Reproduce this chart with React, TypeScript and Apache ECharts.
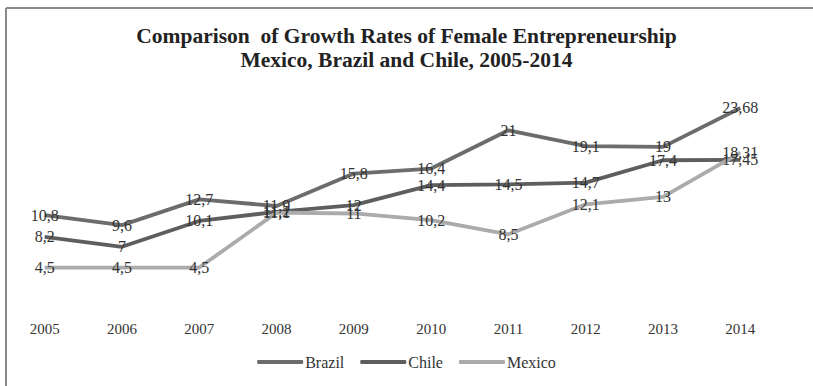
import React, { useEffect, useRef } from "react";
import * as echarts from "echarts";

const years = ["2005", "2006", "2007", "2008", "2009", "2010", "2011", "2012", "2013", "2014"];
const brazil = [10.8, 9.6, 12.7, 11.9, 15.8, 16.4, 21, 19.1, 19, 23.68];
const chile = [8.2, 7, 10.1, 11.2, 12, 14.4, 14.5, 14.7, 17.4, 17.45];
const mexico = [4.5, 4.5, 4.5, 11.1, 11.0, 10.2, 8.5, 12.1, 13, 18.31];
const seriesNames = ["Brazil", "Chile", "Mexico"];
const titleLines = ["Comparison  of Growth Rates of Female Entrepreneurship", "Mexico, Brazil and Chile, 2005-2014"];

const SERIF = "'Liberation Serif', 'DejaVu Serif', serif";

export default function App() {
  const ref = useRef<HTMLDivElement>(null);
  useEffect(() => {
    if (!ref.current) return;
    const chart = echarts.init(ref.current, null, { renderer: "svg" });
    const colors = ["#6c6c6c", "#5e5e5e", "#ababab"];
    const data = [brazil, chile, mexico];
    chart.setOption({
      animation: false,
      backgroundColor: "#ffffff",
      title: {
        text: titleLines.join("\n"),
        left: "center",
        top: 19,
        textStyle: {
          fontFamily: SERIF,
          fontWeight: "bold",
          fontSize: 21.5,
          lineHeight: 24,
          color: "#222",
        },
      },
      graphic: [
        { type: "line", shape: { x1: 6, y1: 8, x2: 813, y2: 8 }, style: { stroke: "#8a8a8a", lineWidth: 2 } },
        { type: "line", shape: { x1: 6, y1: 8, x2: 6, y2: 386 }, style: { stroke: "#8a8a8a", lineWidth: 2 } },
      ],
      legend: {
        top: 349,
        left: "center",
        itemWidth: 46,
        itemHeight: 4,
        itemGap: 16,
        icon: "roundRect",
        data: seriesNames.map((name, i) => ({ name, itemStyle: { color: colors[i] } })),
        textStyle: { fontFamily: SERIF, fontSize: 16, color: "#333", padding: [0, 0, 0, -3] },
      },
      grid: { left: 6, right: 34, top: 97, bottom: 81 },
      xAxis: {
        type: "category",
        data: years,
        boundaryGap: true,
        axisLine: { show: false },
        axisTick: { show: false },
        axisLabel: { fontFamily: SERIF, fontSize: 15, color: "#333", margin: 16 },
      },
      yAxis: {
        type: "value",
        min: 0,
        max: 25,
        show: false,
        splitLine: { show: false },
      },
      series: seriesNames.map((name, i) => ({
        name,
        type: "line",
        data: data[i],
        symbol: "circle",
        symbolSize: 0.01,
        showSymbol: true,
        lineStyle: { width: 3.8, color: colors[i] },
        itemStyle: { color: colors[i] },
        label: {
          show: true,
          position: "inside",
          fontFamily: SERIF,
          fontSize: 16,
          color: "#333",
          formatter: (p: any) => String(p.value).replace(".", ","),
        },
        labelLayout: { hideOverlap: false },
      })),
    });
    return () => chart.dispose();
  }, []);
  return <div ref={ref} style={{ position: "absolute", left: 0, top: 0, width: 813, height: 386 }} />;
}
